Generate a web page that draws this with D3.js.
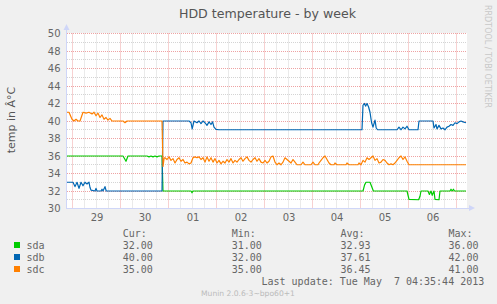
<!DOCTYPE html>
<html><head><meta charset="utf-8">
<script src="https://cdn.jsdelivr.net/npm/d3@7/dist/d3.min.js"></script>
<style>
html,body{margin:0;padding:0;background:#F0F0F0;}
svg{display:block;}
text{font-family:"DejaVu Sans",sans-serif;}
.mono{font-family:"DejaVu Sans Mono",monospace;white-space:pre;}
</style></head><body>
<svg id="c" width="497" height="304"></svg>
<script>
// ---------- data ----------
const title = "HDD temperature - by week";
const yLabel = "temp in Â°C";
const windowStart = Date.UTC(2013, 3, 28, 21, 15); // left edge of graph
const windowHours = 200;
const dayLabels = ["29","30","01","02","03","04","05","06"];
const yTicks = [30,32,34,36,38,40,42,44,46,48,50];

// [hours since window start, temperature]
const sda = [[0,36],[28,36],[29.5,35.4],[30.5,36],[40,36],[41,35.9],[42,36],[43,35.9],[44,36],[45,35.9],[46,36],[47.5,36],[48,32],
  [62,32],[62.5,31.8],[63,32],[148,32],[148.8,32.7],[149.5,33],[151.5,33],[153.2,32],[170,32],[171,31.05],[175.8,31],[176.5,31.4],[177,32],
  [180.5,32],[181.2,31.6],[182,32],[182.6,31.5],[183.5,32],[184,31.05],[186,31],[186.5,32],[191.5,32],[192,32.2],[192.6,32],[193.2,32.2],[193.8,32],[199.5,32]];

const sdb = [[0,33],[3,33],[4,32.5],[5,33],[6,32.3],[7,33],[8,32.6],[9,33],[10,32.8],[11,33],[11.5,32.4],[12,32.1],[14,32],[14.5,32.3],[15,32],
  [17,32],[17.5,32.2],[18,32],[19,32.5],[19.6,32],[47.5,32],[48,40],[61,40],[62,39.8],[62.6,39.1],[63.5,40],[65,39.8],[66,40],[67,39.7],
  [68,40],[69,39.8],[70,39.5],[71,39.9],[72,39.6],[72.8,39.9],[73.5,39.3],[74.5,39.05],[76,39],[147.5,39],[148,41.8],[148.7,42],[149.3,41.7],
  [150,42],[150.8,41.6],[151.5,41],[152.3,39.8],[153,39.3],[154,40.1],[154.6,39.2],[155.3,39],[165,39],[166,39.3],[167,39],[168,39.3],
  [169,39.1],[170,39.4],[171,39],[175.5,39],[176,40],[183,40],[183.5,39.2],[184.5,39.6],[185,39.1],[186,39.5],[187,39.1],[188,39.2],
  [189,39],[190,39.3],[191,39.4],[192,39.6],[193,39.5],[194,39.8],[195,39.7],[196,39.9],[197,40],[198,39.9],[199.5,39.8]];

const sdc = [[0,41],[1,41],[2.5,40.2],[3.5,40],[4.5,40.2],[5.5,40],[6.5,40],[8,41],[9.5,40.9],[11,41],[12.5,40.8],[13.5,41],[14.5,40.6],
  [15.5,40.9],[16.5,40.4],[17.5,40.7],[18.5,40.2],[19.5,40.4],[20.5,40.1],[21.5,40.3],[22.5,40],[28,40],[29,39.8],[30,40],[47.5,40],
  [48,34.8],[48.6,35.8],[49,35.8],[50,35.6],[51,35.9],[52,35.5],[53,35.7],[54,35.2],[55,35.6],[56,35.8],[57,35.4],[58,35.6],[59,35.2],
  [60,35.3],[61,35.1],[62,35.2],[63,35.8],[64,35.9],[65,35.8],[66,35.9],[67,35.6],[68,35.8],[69,35.3],[70,35.9],[71,35.4],[72,35.8],
  [73,35.3],[74,35.7],[75,35.2],[76,35.5],[77,35.1],[78,35.4],[79,35.2],[80,35.6],[81,35.3],[82,35.7],[83,35.2],[84,35.5],[85,35.3],
  [86,35.6],[87,35.8],[88,35.4],[89,35.7],[90,35.9],[91,35.5],[92,35.3],[93,35.6],[94,35.8],[95,35.4],[96,35.7],[97,35.3],[98,35.2],
  [99,35.5],[100,35.2],[101,35.4],[102,35.9],[103,36],[104,35.3],[105,35],[106,35.2],[107,35],[108,35.3],[109,35.8],[110,35.6],
  [111,35.4],[112,35.2],[113,35.6],[114,35.3],[115,35],[117,35],[118,35.3],[119,35],[122,35],[123,35.3],[124,35],[125.5,35],[126,35.2],
  [127,35.5],[128,35.8],[129,36],[130,35.6],[131,35.2],[132,35],[133.5,35],[134,35.2],[135,35],[139.5,35],[140,35.2],[141,35],
  [145.5,35],[146,35.2],[147,35],[148,35.5],[149,35.3],[150,35.8],[151,35.6],[152,35.8],[153,36],[154,35.5],[155,35.7],[156,35.2],
  [157,35.3],[158,35.6],[159,35.5],[160,35.2],[161,35],[162,35.1],[163,35],[164,35.2],[165,35.5],[166,35.8],[167,36],[168,35.6],
  [169,35.9],[170,35.4],[171,35],[199.5,35]];

const seriesNames = ["sda","sdb","sdc"];
const seriesColors = ["#00CC00","#0066B3","#FF8000"];
const statHeaders = ["Cur:","Min:","Avg:","Max:"];
const statCur = ["32.00","40.00","35.00"];
const statMin = ["31.00","32.00","35.00"];
const statAvg = ["32.93","37.61","36.45"];
const statMax = ["36.00","42.00","41.00"];
const lastUpdate = "Last update: Tue May  7 04:35:44 2013";
const footer = "Munin 2.0.6-3~bpo60+1";

// ---------- drawing ----------
const svg = d3.select("#c");
const L = 67, R = 467, T = 33.5, B = 208.5;
const x = d3.scaleUtc().domain([new Date(windowStart), new Date(windowStart + windowHours*3600e3)]).range([L, R]);
const y = d3.scaleLinear().domain([30, 50]).range([B, T]);
const hx = h => x(new Date(windowStart + h*3600e3));

svg.append("rect").attr("x",0).attr("y",0).attr("width",497).attr("height",304).attr("fill","#F0F0F0");
svg.append("rect").attr("x",L).attr("y",T-0.5).attr("width",R-L).attr("height",B-T+0.5).attr("fill","#FFFFFF");

const g = svg.append("g");
const snap = v => Math.round(v - 0.5) + 0.5;

// vertical grid (6h minor, midnight major)
const sixH = d3.utcHour.every(6).range(x.domain()[0], x.domain()[1]);
sixH.forEach(d => {
  const isMid = d.getUTCHours() === 0;
  g.append("line").attr("x1",snap(x(d))).attr("x2",snap(x(d))).attr("y1",T).attr("y2",B)
   .attr("stroke", isMid ? "#EEA3A3" : "#D4D4D4").attr("stroke-dasharray","1,1").attr("stroke-width",1);
});
// horizontal grid
d3.range(30, 51, 1).forEach(v => {
  const major = v % 2 === 0;
  g.append("line").attr("x1",L).attr("x2",R).attr("y1",snap(y(v))).attr("y2",snap(y(v)))
   .attr("stroke", major ? "#EEA3A3" : "#D4D4D4").attr("stroke-dasharray","1,1").attr("stroke-width",1);
});

// axes (munin style)
const axisCol = "#CFD6F8";
svg.append("line").attr("x1",66.5).attr("x2",66.5).attr("y1",B+0.5).attr("y2",29).attr("stroke",axisCol);
svg.append("path").attr("d","M63.5,30 L69.5,30 L66.5,24 Z").attr("fill",axisCol);
svg.append("line").attr("x1",66).attr("x2",470).attr("y1",B).attr("y2",B).attr("stroke",axisCol);
svg.append("path").attr("d","M469,205 L469,211 L475,208 Z").attr("fill",axisCol);

// y tick labels
const yAxis = d3.axisLeft(y).tickValues(yTicks).tickSize(0).tickPadding(6).tickFormat(d3.format("d"));
const ya = svg.append("g").attr("transform",`translate(${L-0.5},0)`).call(yAxis);
ya.select(".domain").remove();
ya.selectAll("text").attr("font-family","DejaVu Sans").attr("font-size","10px").attr("fill","#666");

// x day labels at noon
const noons = dayLabels.map((lab, i) => new Date(Date.UTC(2013, 3, 29 + i, 12)));
const xAxis = d3.axisBottom(x).tickValues(noons).tickSize(0).tickPadding(5)
  .tickFormat((d, i) => dayLabels[i]);
const xa = svg.append("g").attr("transform",`translate(0,${B})`).call(xAxis);
xa.select(".domain").remove();
xa.selectAll("text").attr("font-family","DejaVu Sans").attr("font-size","10px").attr("fill","#666");

// series lines
const line = d3.line().x(d => hx(d[0])).y(d => y(d[1]));
[sda, sdb, sdc].forEach((s, i) => {
  svg.append("path").attr("d", line(s)).attr("fill","none").attr("stroke",seriesColors[i])
    .attr("stroke-width",1.2).attr("stroke-linejoin","round");
});

// title & labels
svg.append("text").attr("x",267.5).attr("y",18.3).attr("text-anchor","middle")
  .attr("font-size","12.6px").attr("fill","#555").text(title);
svg.append("text").attr("transform","translate(15,120) rotate(-90)").attr("text-anchor","middle")
  .attr("font-size","11px").attr("fill","#555").text(yLabel);
svg.append("text").attr("transform","translate(485,5) rotate(90)").attr("text-anchor","start")
  .attr("font-size","8px").attr("fill","#C8C8C8").attr("textLength",103).attr("lengthAdjust","spacingAndGlyphs")
  .text("RRDTOOL / TOBI OETIKER");

// legend
const colX = [122.7, 231.7, 340.5, 448.5];
statHeaders.forEach((h, i) => {
  svg.append("text").attr("class","mono").attr("x",colX[i]).attr("y",237).attr("font-size","10px").attr("fill","#666").text(h);
});
const stats = [statCur, statMin, statAvg, statMax];
seriesNames.forEach((n, r) => {
  const by = 249 + r*12;
  svg.append("rect").attr("x",14).attr("y",by-7).attr("width",6).attr("height",6).attr("fill",seriesColors[r]);
  svg.append("text").attr("class","mono").attr("x",26.5).attr("y",by).attr("font-size","10px").attr("fill","#666").text(n);
  stats.forEach((col, c) => {
    svg.append("text").attr("class","mono").attr("x",colX[c]).attr("y",by).attr("font-size","10px").attr("fill","#666").text(col[r]);
  });
});
svg.append("text").attr("class","mono").attr("x",261.5).attr("y",285).attr("font-size","10px").attr("fill","#666").text(lastUpdate);
svg.append("text").attr("x",248).attr("y",295.5).attr("text-anchor","middle").attr("font-size","7.6px").attr("fill","#BBBBBB").text(footer);
</script>
</body></html>
